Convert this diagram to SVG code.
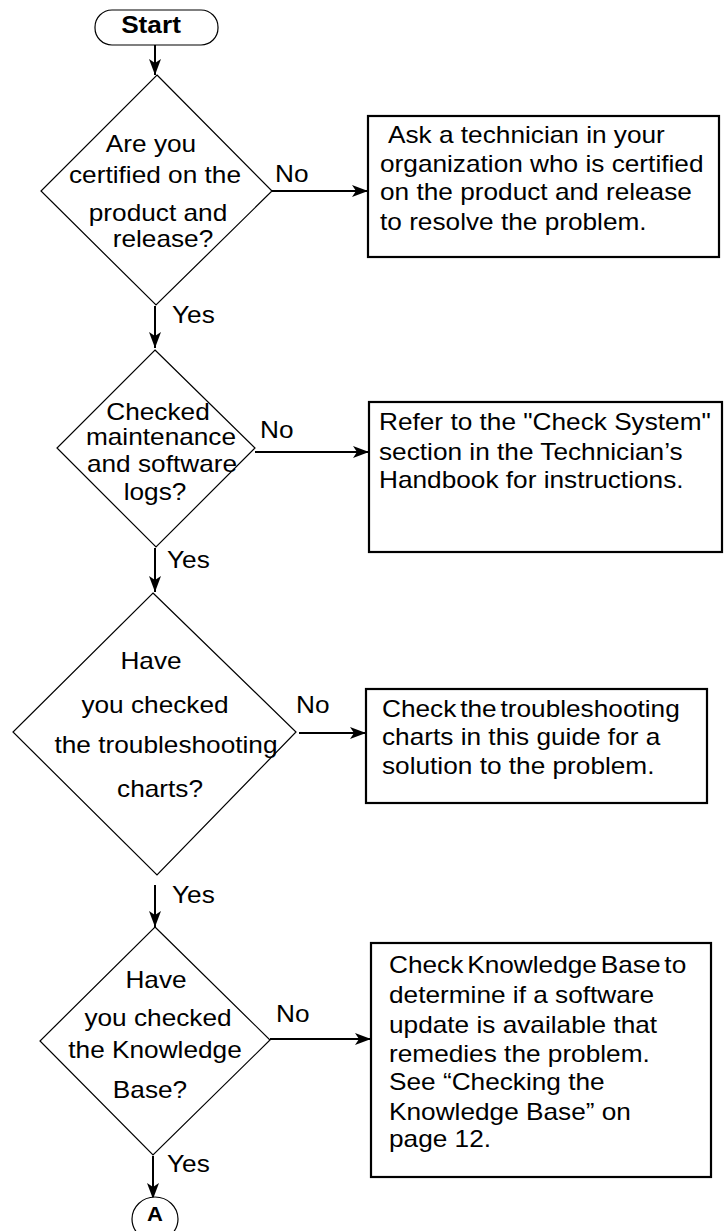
<svg xmlns="http://www.w3.org/2000/svg" width="724" height="1231" viewBox="0 0 724 1231">
<style>
text{font-family:"Liberation Sans",Arial,sans-serif;font-size:23px;fill:#000}
.b{font-weight:bold}
.c{text-anchor:middle}
.d{fill:#fff;stroke:#000;stroke-width:1.2}
.box{fill:#fff;stroke:#000;stroke-width:2.2}
.conn{stroke:#000;stroke-width:2;fill:none;marker-end:url(#ah)}
</style>
<defs>
<marker id="ah" markerUnits="userSpaceOnUse" markerWidth="18" markerHeight="14" refX="16" refY="6" orient="auto">
<path d="M0,0 L16,6 L0,12 L4,6 z" fill="#000"/>
</marker>
</defs>
<rect width="724" height="1231" fill="#fff"/>

<g id="connectors">
<line class="conn" x1="155" y1="42" x2="155" y2="75"/>
<line class="conn" x1="155" y1="306" x2="155" y2="348"/>
<line class="conn" x1="155" y1="548" x2="155" y2="592"/>
<line class="conn" x1="155" y1="885" x2="155" y2="927"/>
<line class="conn" x1="153" y1="1156" x2="153" y2="1199"/>
<line class="conn" x1="272" y1="191" x2="368" y2="191"/>
<line class="conn" x1="255" y1="452" x2="369" y2="452"/>
<line class="conn" x1="299" y1="733" x2="366" y2="733"/>
<line class="conn" x1="270" y1="1039" x2="371" y2="1039"/>
<text transform="translate(172 323) scale(1.14 1)">Yes</text>
<text transform="translate(167 568) scale(1.14 1)">Yes</text>
<text transform="translate(172 903) scale(1.14 1)">Yes</text>
<text transform="translate(167 1172) scale(1.14 1)">Yes</text>
<text transform="translate(275 182) scale(1.14 1)">No</text>
<text transform="translate(260 438) scale(1.14 1)">No</text>
<text transform="translate(296 713) scale(1.14 1)">No</text>
<text transform="translate(276 1022) scale(1.14 1)">No</text>
</g>

<g id="start">
<rect x="95" y="10" width="123" height="35" rx="17" ry="17" fill="#fff" stroke="#000" stroke-width="1.2"/>
<text class="b c" transform="translate(151 33) scale(1.14 1)">Start</text>
</g>

<g id="decision1">
<polygon class="d" points="157,75 272,191 156,305 41,191"/>
<text class="c" transform="translate(151 152) scale(1.14 1)">Are you</text>
<text class="c" transform="translate(155 183) scale(1.14 1)">certified on the</text>
<text class="c" transform="translate(158 221) scale(1.14 1)">product and</text>
<text class="c" transform="translate(163 247) scale(1.14 1)">release?</text>
</g>

<g id="action1">
<rect class="box" x="368" y="116" width="351" height="141"/>
<text transform="translate(388 143) scale(1.14 1)">Ask a technician in your</text>
<text transform="translate(380 172) scale(1.14 1)">organization who is certified</text>
<text transform="translate(380 200) scale(1.14 1)">on the product and release</text>
<text transform="translate(380 230) scale(1.14 1)">to resolve the problem.</text>
</g>

<g id="decision2">
<polygon class="d" points="155,350 255,448 156,547 57,448"/>
<text class="c" transform="translate(158 420) scale(1.14 1)">Checked</text>
<text class="c" transform="translate(161 445) scale(1.14 1)">maintenance</text>
<text class="c" transform="translate(162 472) scale(1.14 1)">and software</text>
<text class="c" transform="translate(155 500) scale(1.14 1)">logs?</text>
</g>

<g id="action2">
<rect class="box" x="369" y="402" width="353" height="150"/>
<text transform="translate(379 430) scale(1.14 1)">Refer to the "Check System"</text>
<text transform="translate(379 460) scale(1.14 1)">section in the Technician’s</text>
<text transform="translate(379 488) scale(1.14 1)">Handbook for instructions.</text>
</g>

<g id="decision3">
<polygon class="d" points="153,593 296,732 157,875 13,732"/>
<text class="c" transform="translate(151 669) scale(1.14 1)">Have</text>
<text class="c" transform="translate(155 713) scale(1.14 1)">you checked</text>
<text class="c" transform="translate(166 753) scale(1.14 1)">the troubleshooting</text>
<text class="c" transform="translate(160 797) scale(1.14 1)">charts?</text>
</g>

<g id="action3">
<rect class="box" x="366" y="689" width="341" height="114"/>
<text transform="translate(382 717) scale(1.14 1)" word-spacing="-3">Check the troubleshooting</text>
<text transform="translate(382 745) scale(1.14 1)">charts in this guide for a</text>
<text transform="translate(382 774) scale(1.14 1)">solution to the problem.</text>
</g>

<g id="decision4">
<polygon class="d" points="155,927 270,1040 153,1155 40,1041"/>
<text class="c" transform="translate(156 988) scale(1.14 1)">Have</text>
<text class="c" transform="translate(158 1026) scale(1.14 1)">you checked</text>
<text class="c" transform="translate(155 1058) scale(1.14 1)">the Knowledge</text>
<text class="c" transform="translate(150 1098) scale(1.14 1)">Base?</text>
</g>

<g id="action4">
<rect class="box" x="371" y="943" width="340" height="234"/>
<text transform="translate(389 973) scale(1.14 1)" word-spacing="-3">Check Knowledge Base to</text>
<text transform="translate(389 1003) scale(1.14 1)">determine if a software</text>
<text transform="translate(389 1033) scale(1.14 1)">update is available that</text>
<text transform="translate(389 1062) scale(1.14 1)">remedies the problem.</text>
<text transform="translate(389 1090) scale(1.14 1)">See “Checking the</text>
<text transform="translate(389 1120) scale(1.14 1)">Knowledge Base” on</text>
<text transform="translate(389 1147) scale(1.14 1)">page 12.</text>
</g>

<g id="connectorA">
<ellipse cx="155" cy="1219" rx="23" ry="22" fill="#fff" stroke="#000" stroke-width="1.2"/>
<text class="b c" transform="translate(155 1221) scale(1.1 1)" style="font-size:20px">A</text>
</g>
</svg>
